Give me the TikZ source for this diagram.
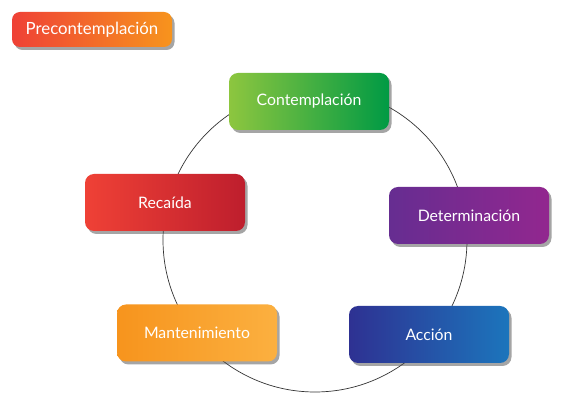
\documentclass[tikz,border=0pt]{standalone}
\usepackage{fontspec}
\setmainfont{Lato}
\usetikzlibrary{shadows}
\definecolor{redA}{HTML}{EF4136}
\definecolor{orangeA}{HTML}{F7941D}
\definecolor{greenA}{HTML}{8DC63F}
\definecolor{greenB}{HTML}{009A44}
\definecolor{purpleA}{HTML}{662D91}
\definecolor{purpleB}{HTML}{92278F}
\definecolor{redB}{HTML}{BE1E2D}
\definecolor{orangeB}{HTML}{FBB040}
\definecolor{blueA}{HTML}{2E3192}
\definecolor{blueB}{HTML}{1C75BC}
\definecolor{ringcol}{HTML}{333333}
\tikzset{
  stagebox/.style={rounded corners=9pt, minimum width=160pt, minimum height=57pt,
    text=white, font=\fontsize{15.8}{18}\selectfont, inner sep=0pt,
    drop shadow={shadow xshift=2.5pt, shadow yshift=-3pt, opacity=0.5, fill=black!70}},
  smallbox/.style={rounded corners=8pt, minimum width=160pt, minimum height=35pt,
    text=white, font=\fontsize{16.8}{19}\selectfont, inner sep=0pt,
    drop shadow={shadow xshift=2.5pt, shadow yshift=-3pt, opacity=0.5, fill=black!70}},
  ring/.style={draw=ringcol, line width=0.7pt}
}
\begin{document}
\begin{tikzpicture}[x=1pt,y=-1pt]
\useasboundingbox (0,0) rectangle (566,403);
\fill[white] (0,0) rectangle (566,403);
\coordinate (ringc) at (315,240);
\draw[ring] (ringc) circle[radius=152pt];
\node[smallbox, left color=redA, right color=orangeA] (pre) at (92,29.5) {Precontemplación};
\node[stagebox, left color=greenA, right color=greenB] (cont) at (309,101.5) {Contemplación};
\node[stagebox, left color=purpleA, right color=purpleB] (det) at (469,215.5) {Determinación};
\node[stagebox, left color=redA, right color=redB] (rec) at (165,202.5) {Recaída};
\node[stagebox, left color=orangeA, right color=orangeB] (man) at (197,333) {Mantenimiento};
\node[stagebox, left color=blueA, right color=blueB] (acc) at (429,334.5) {Acción};
\end{tikzpicture}
\end{document}
